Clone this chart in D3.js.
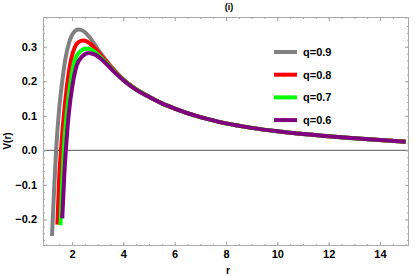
<!DOCTYPE html>
<meta charset="utf-8">
<style>
body { margin: 0; background: #fff; }
svg text { font-family: "Liberation Sans", Arial, sans-serif; font-weight: bold; fill: #000; }
.tick text { font-size: 11px; }
.frame { fill: none; stroke: #a8a8a8; stroke-width: 1px; }
.curve { fill: none; stroke-width: 4px; stroke-linejoin: round; }
</style>
<body>
<div id="chart"></div>
<script src="https://d3js.org/d3.v7.min.js"></script>
<script>

// series values: [r, V(r)]
var qLabels = ["q=0.9", "q=0.8", "q=0.7", "q=0.6"];
var colors = ["#808080", "#ff0000", "#00ff00", "#800080"];

// common tail where all curves coincide
var tail = [[5, 0.155], [5.5, 0.136], [6, 0.121], [7, 0.096], [8, 0.078], [9, 0.065],
            [10, 0.055], [11, 0.047], [12, 0.041], [13, 0.035], [14, 0.030], [15, 0.025]];

var q09 = [[1.22, -0.248], [1.30, -0.12], [1.38, 0], [1.50, 0.12], [1.62, 0.2], [1.75, 0.268],
           [1.9, 0.315], [2.05, 0.340], [2.25, 0.350], [2.45, 0.345], [2.7, 0.326], [3.0, 0.293],
           [3.5, 0.245], [4.0, 0.205], [4.5, 0.177]];
var q08 = [[1.43, -0.215], [1.50, -0.08], [1.57, 0], [1.68, 0.1], [1.80, 0.184], [1.96, 0.262],
           [2.1, 0.297], [2.25, 0.313], [2.44, 0.318], [2.65, 0.312], [2.9, 0.295], [3.2, 0.269],
           [3.6, 0.235], [4.0, 0.205], [4.5, 0.177]];
var q07 = [[1.55, -0.217], [1.62, -0.09], [1.68, 0], [1.80, 0.11], [1.92, 0.184], [2.07, 0.250],
           [2.25, 0.281], [2.57, 0.295], [2.8, 0.290], [3.1, 0.271], [3.5, 0.240], [4.0, 0.204],
           [4.5, 0.176]];
var q06 = [[1.62, -0.197], [1.70, -0.07], [1.76, 0], [1.88, 0.11], [2.01, 0.184], [2.18, 0.245],
           [2.4, 0.272], [2.65, 0.282], [2.9, 0.277], [3.2, 0.260], [3.6, 0.230], [4.0, 0.203],
           [4.5, 0.175]];

var xTicks = [2, 4, 6, 8, 10, 12, 14];
var yTicks = [-0.2, -0.1, 0.0, 0.1, 0.2, 0.3];

var series = [q09, q08, q07, q06].map(function(d) { return d.concat(tail); });

var width = 415, height = 276;
var margin = {top: 17, right: 6, bottom: 30, left: 43};

var svg = d3.select("#chart").append("svg")
    .attr("width", width)
    .attr("height", height);

var x = d3.scaleLinear().domain([0.87, 15.13]).range([margin.left, width - margin.right]);
var y = d3.scaleLinear().domain([-0.277, 0.386]).range([height - margin.bottom, margin.top]);

var fmt = function(d) { return d3.format(".1f")(d).replace("-", "\u2212"); };

// clip for curves
svg.append("clipPath").attr("id", "clip")
  .append("rect")
    .attr("x", margin.left).attr("y", margin.top)
    .attr("width", width - margin.left - margin.right)
    .attr("height", height - margin.top - margin.bottom);

// zero line
svg.append("line")
    .attr("x1", margin.left).attr("x2", width - margin.right)
    .attr("y1", y(0)).attr("y2", y(0))
    .attr("stroke", "#555").attr("stroke-width", 1);

// curves
var line = d3.line()
    .x(function(d) { return x(d[0]); })
    .y(function(d) { return y(d[1]); })
    .curve(d3.curveMonotoneX);

svg.append("g").attr("clip-path", "url(#clip)")
  .selectAll("path")
  .data(series)
  .enter().append("path")
    .attr("class", "curve")
    .attr("stroke", function(d, i) { return colors[i]; })
    .attr("d", line);

// frame axes with inward ticks
var xMinor = d3.range(1, 15.01, 0.5);
var yMinor = d3.range(-0.26, 0.38, 0.02);

function addAxis(axis, tr, labels) {
  var g = svg.append("g").attr("transform", tr).call(axis);
  g.select(".domain").remove();
  g.selectAll(".tick line").attr("stroke", "#a8a8a8");
  if (!labels) g.selectAll(".tick text").remove();
  return g;
}

var bY = height - margin.bottom, tY = margin.top, lX = margin.left, rX = width - margin.right;

addAxis(d3.axisBottom(x).tickValues(xMinor).tickSize(-2).tickFormat(""), "translate(0," + bY + ")", false);
addAxis(d3.axisTop(x).tickValues(xMinor).tickSize(-2).tickFormat(""), "translate(0," + tY + ")", false);
addAxis(d3.axisLeft(y).tickValues(yMinor).tickSize(-2).tickFormat(""), "translate(" + lX + ",0)", false);
addAxis(d3.axisRight(y).tickValues(yMinor).tickSize(-2).tickFormat(""), "translate(" + rX + ",0)", false);

var gx = addAxis(d3.axisBottom(x).tickValues(xTicks).tickSize(-4).tickPadding(4).tickFormat(d3.format("d")), "translate(0," + bY + ")", true);
addAxis(d3.axisTop(x).tickValues(xTicks).tickSize(-4).tickFormat(""), "translate(0," + tY + ")", false);
var gy = addAxis(d3.axisLeft(y).tickValues(yTicks).tickSize(-4).tickPadding(6).tickFormat(fmt), "translate(" + lX + ",0)", true);
addAxis(d3.axisRight(y).tickValues(yTicks).tickSize(-4).tickFormat(""), "translate(" + rX + ",0)", false);

gx.selectAll(".tick text").attr("fill", "#000").style("font-size", "11px");
gy.selectAll(".tick text").attr("fill", "#000").style("font-size", "11px");

svg.append("rect").attr("class", "frame")
    .attr("x", lX + 0.5).attr("y", tY + 0.5)
    .attr("width", rX - lX - 1).attr("height", bY - tY - 1);

// titles
svg.append("text").attr("x", 229).attr("y", 10)
    .attr("text-anchor", "middle").style("font-size", "9px").text("(i)");
svg.append("text").attr("x", 228).attr("y", 274)
    .attr("text-anchor", "middle").style("font-size", "10px").text("r");
svg.append("text").attr("transform", "translate(11,141) rotate(-90)")
    .attr("text-anchor", "middle").style("font-size", "10px").text("V(r)");

// legend
var legend = svg.append("g").selectAll("g")
  .data(qLabels)
  .enter().append("g")
    .attr("transform", function(d, i) { return "translate(274," + (52 + i * 22.7) + ")"; });

legend.append("line")
    .attr("x1", 0).attr("x2", 23)
    .attr("stroke", function(d, i) { return colors[i]; })
    .attr("stroke-width", 4);

legend.append("text")
    .attr("x", 29).attr("dy", "0.35em")
    .style("font-size", "11px")
    .text(function(d) { return d; });

</script>
</body>
